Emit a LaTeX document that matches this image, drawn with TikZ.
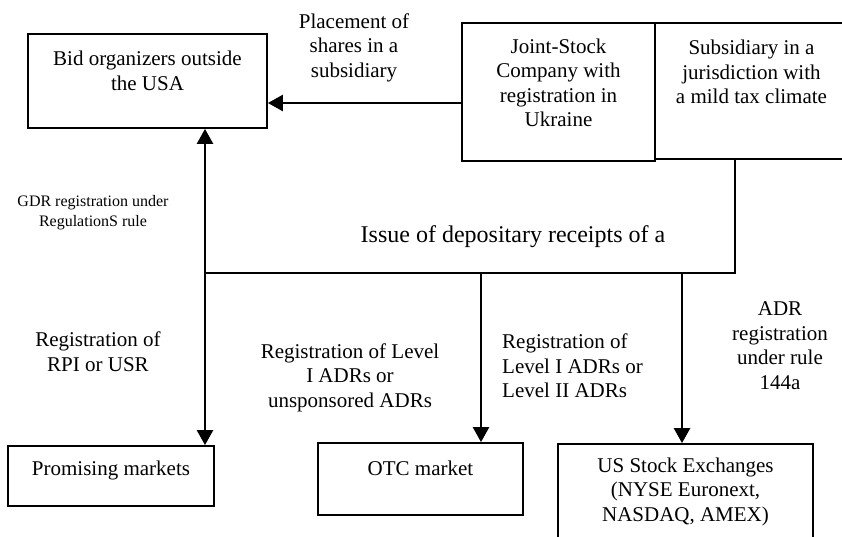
\documentclass[tikz,border=0pt]{standalone}
\usepackage{fontspec}
\setmainfont{Liberation Serif}
\usetikzlibrary{arrows.meta}

\begin{document}
\begin{tikzpicture}[x=1pt, y=-1pt,
    block/.style={draw, line width=1.8pt, inner sep=0pt},
    txt/.style={font=\fontsize{21}{24.5}\selectfont, align=center, inner sep=0pt},
    small/.style={font=\fontsize{16}{20}\selectfont, align=center, inner sep=0pt},
    arr/.style={line width=2.5pt, -{Triangle[length=15pt, width=16pt]}},
    bus/.style={line width=1.8pt}]
            \useasboundingbox[fill=white] (0,0) rectangle (842,536);
            % boxes
            \draw (147.5,81)  node[block, minimum width=239pt, minimum height=94pt]  (bid)   {};
            \draw (558.5,92)  node[block, minimum width=193pt, minimum height=138pt] (joint) {};
            \draw (751.5,91)  node[block, minimum width=193pt, minimum height=136pt] (subs)  {};
            \draw (111,476)   node[block, minimum width=206pt, minimum height=60pt]  (prom)  {};
            \draw (420.5,479) node[block, minimum width=205pt, minimum height=72pt]  (otc)   {};
            \draw (685.5,496) node[block, minimum width=255pt, minimum height=104pt] (us)    {};
            % box texts
            \node[txt] (bidtxt)   at (147.5,71)  {Bid organizers outside\\the USA};
            \node[txt] (jointtxt) at (558.5,83)  {Joint-Stock\\Company with\\registration in\\Ukraine};
            \node[txt] (substxt)  at (751.5,72)  {Subsidiary in a\\jurisdiction with\\a mild tax climate};
            \node[txt] (promtxt)  at (111,470)   {Promising markets};
            \node[txt] (otctxt)   at (420.5,468) {OTC market};
            \node[txt] (ustxt)    at (685.5,491.5) {US Stock Exchanges\\(NYSE Euronext,\\NASDAQ, AMEX)};
            % labels
            \node[txt] (placelbl) at (354,47.5) {Placement of\\shares in a\\subsidiary};
            \node[small] (gdrlbl) at (93,213) {GDR registration under\\RegulationS rule};
            \node[txt, font=\fontsize{24}{28}\selectfont] (issuelbl) at (513,237) {Issue of depositary receipts of a};
            \node[txt] (rpilbl)   at (98,351.5) {Registration of\\RPI or USR};
            \node[txt] (lvl1lbl)  at (350,377.5) {Registration of Level\\I ADRs or\\unsponsored ADRs};
            \node[txt, anchor=west, align=left] (lvl2lbl) at (502,366) {Registration of\\Level I ADRs or\\Level II ADRs};
            \node[txt] (adrlbl)   at (780,345.5) {ADR\\registration\\under rule\\144a};
            % connectors
            \coordinate (place) at (462,103);
            \coordinate (busl) at (205,273);
            \coordinate (busm) at (481,273);
            \coordinate (busn) at (682,273);
            \coordinate (busr) at (735,273);
            \draw[arr] (place) -- (place -| bid.east);
            \draw[bus] (busr |- subs.south) -- (busr) -- (busl);
            \draw[arr] (busl) -- (busl |- bid.south);
            \draw[arr] (busl) -- (busl |- prom.north);
            \draw[arr] (busm) -- (busm |- otc.north);
            \draw[arr] (busn) -- (busn |- us.north);
        \end{tikzpicture}
\end{document}
